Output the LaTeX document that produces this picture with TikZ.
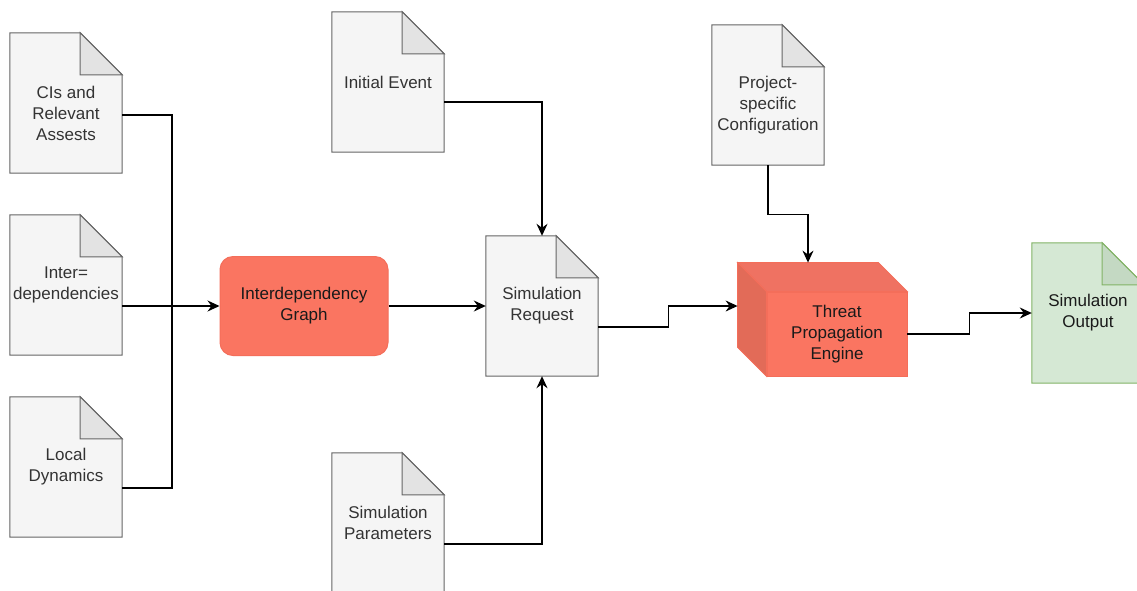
\documentclass[tikz,border=0pt]{standalone}
\usepackage{fontspec}
\setmainfont{Liberation Sans}
\usetikzlibrary{arrows.meta}
\definecolor{grayfill}{HTML}{F5F5F5}
\definecolor{grayline}{HTML}{666666}
\definecolor{grayfold}{HTML}{E3E3E3}
\definecolor{graytext}{HTML}{333333}
\definecolor{greenfill}{HTML}{D5E8D4}
\definecolor{greenline}{HTML}{82B366}
\definecolor{greenfold}{HTML}{C4D9C3}
\definecolor{greentext}{HTML}{1A1A1A}
\definecolor{salmon}{HTML}{FA7561}
\definecolor{salmonline}{HTML}{F46E5A}
\definecolor{cubetop}{HTML}{EF7262}
\definecolor{cubeside}{HTML}{E26B58}
\newcommand\docnote[5]{%
  \node[docbox] (#1) at (#2) {};
  \path[fill=#5fill, draw=#5line, line width=1pt, line join=miter]
    (#1.north west) -- ([xshift=-42pt]#1.north east) -- ([yshift=-42pt]#1.north east)
    -- (#1.south east) -- (#1.south west) -- cycle;
  \path[fill=#5fold, draw=#5line, line width=1pt]
    ([xshift=-42pt]#1.north east) -- ([shift={(-42pt,-42pt)}]#1.north east)
    -- ([yshift=-42pt]#1.north east) -- cycle;
  \node[doctext, text=#5text] (#1-t) at ([yshift=-#4pt]#1.center) {#3};
}
\begin{document}
\begin{tikzpicture}[x=1pt, y=-1pt,
  docbox/.style={rectangle, minimum width=112pt, minimum height=140pt, inner sep=0pt},
  doctext/.style={align=center, font=\fontsize{17}{21}\selectfont, inner sep=0pt},
  arr/.style={-{Stealth[length=12pt,width=11pt,inset=4pt]}, line width=1.4pt, black},
  ln/.style={line width=1.4pt, black},
  ]
\useasboundingbox (0,0) rectangle (1137,590);
\clip (0,0) rectangle (1137,590);
\fill[white] (0,0) rectangle (1137,590);

% documents
\docnote{ci}{66,103}{CIs and\\Relevant\\Assests}{10}{gray}
\docnote{id}{66,285}{Inter=\\dependencies}{0}{gray}
\docnote{ld}{66,467}{Local\\Dynamics}{0}{gray}
\docnote{ie}{388,82}{Initial Event}{0}{gray}
\docnote{sr}{542,306}{Simulation\\Request}{0}{gray}
\docnote{sp}{388,523}{Simulation\\Parameters}{0}{gray}
\docnote{cfg}{768,95}{Project-\\specific\\Configuration}{10}{gray}
\docnote{so}{1088,313}{Simulation\\Output}{0}{green}

% interdependency graph
\node[rectangle, rounded corners=13pt, fill=salmon, draw=salmonline, line width=1pt,
  minimum width=168pt, minimum height=99pt, align=center,
  font=\fontsize{17}{21}\selectfont, text=greentext] (ig) at (304,306) {Interdependency\\Graph};

% threat propagation engine (cube)
\node[rectangle, fill=salmon, draw=salmonline, line width=0.8pt, minimum width=140pt,
  minimum height=84pt, align=center, inner sep=0pt,
  font=\fontsize{17}{21}\selectfont, text=greentext] (tpe) at (837,334) {Threat\\Propagation\\Engine};
\path[fill=cubetop, draw=salmonline, line width=0.8pt, line join=miter]
  (tpe.north west) -- ([shift={(-29,-29)}]tpe.north west) -- ([shift={(-29,-29)}]tpe.north east)
  -- (tpe.north east) -- cycle;
\path[fill=cubeside, draw=salmonline, line width=0.8pt, line join=miter]
  (tpe.north west) -- ([shift={(-29,-29)}]tpe.north west) -- ([shift={(-29,-29)}]tpe.south west)
  -- (tpe.south west) -- cycle;

% connectors
\coordinate (jn) at (172,306);
\draw[ln] ([yshift=-12pt]ci.east) -| (jn);
\draw[ln] ([yshift=-21pt]ld.east) -| (jn);
\draw[arr] (id.east |- ig.west) -- (ig.west);
\draw[arr] (ig.east) -- (sr.west);
\draw[arr] ([yshift=-20pt]ie.east) -| (sr.north);
\draw[arr] ([yshift=-21pt]sp.east) -| (sr.south);
\draw[arr] ([yshift=-21pt]sr.east) -- ++(70,0) |- ([shift={(-29,-28)}]tpe.west);
\draw[arr] (cfg.south) -- ++(0,49) -| ([shift={(-29,-29)}]tpe.north);
\draw[arr] (tpe.east) -- ++(62,0) |- (so.west);
\end{tikzpicture}
\end{document}
